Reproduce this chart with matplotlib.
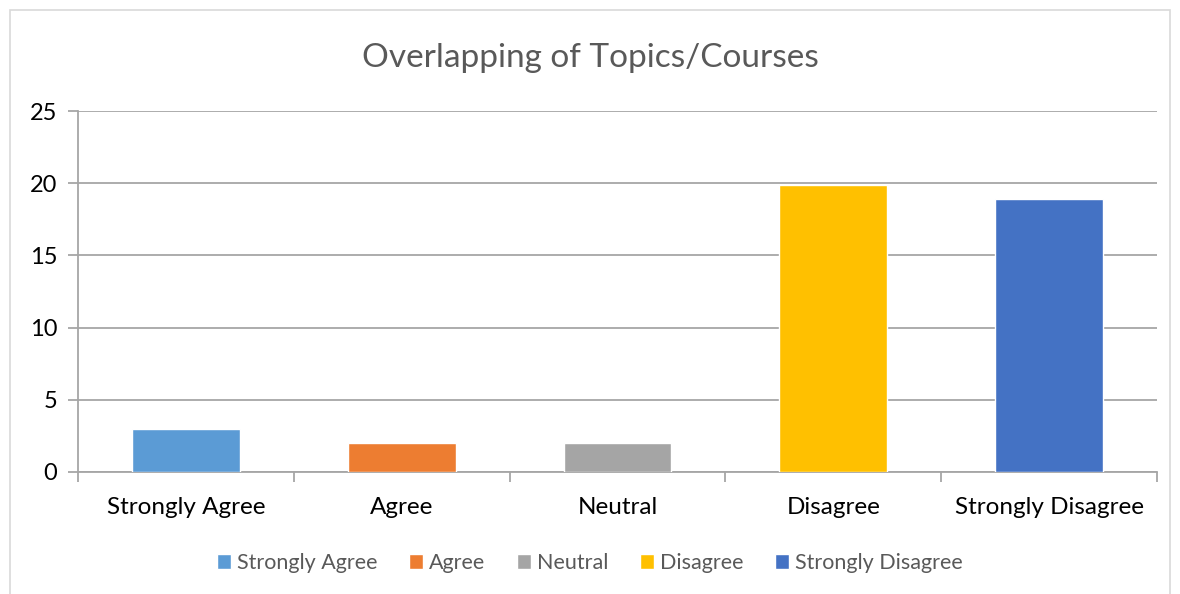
import matplotlib

matplotlib.use("Agg")
import matplotlib.pyplot as plt
from matplotlib.patches import Rectangle

categories = ["Strongly Agree", "Agree", "Neutral", "Disagree", "Strongly Disagree"]
values = [3, 2, 2, 19.9, 18.9]
colors = ["#5b9bd5", "#ed7d31", "#a5a5a5", "#ffc000", "#4472c4"]
yticks = [0, 5, 10, 15, 20, 25]

plt.rcParams["font.family"] = ["Lato", "DejaVu Sans"]

fig = plt.figure(figsize=(11.8, 5.94), dpi=100)
fig.patches.append(
    Rectangle((10 / 1180, -10 / 594), 1160 / 1180, 594 / 594, transform=fig.transFigure,
              fill=False, edgecolor="#d9d9d9", linewidth=1.2)
)
ax = fig.add_axes([78 / 1180, 1 - 472 / 594, (1157 - 78) / 1180, (472 - 111) / 594])

x = list(range(len(categories)))
bars = ax.bar(x, values, width=0.5, color=colors, edgecolor="white", linewidth=1, zorder=3)

ax.set_xlim(-0.5, len(categories) - 0.5)
ax.set_ylim(0, 25)
ax.set_yticks(yticks)
ax.yaxis.grid(True, color="#a6a6a6", linewidth=1.3, zorder=0)

# category boundaries as tick marks, labels centered
ax.set_xticks([i - 0.5 for i in range(len(categories) + 1)])
ax.set_xticklabels([])
ax.set_xticks(x, minor=True)
ax.set_xticklabels(categories, minor=True, fontsize=17.5)
ax.tick_params(axis="x", which="major", length=7, color="#a6a6a6", width=1.3)
ax.tick_params(axis="x", which="minor", length=0, pad=18, labelcolor="black")
ax.tick_params(axis="y", length=7, color="#a6a6a6", width=1.3, labelsize=17, pad=8)

for side in ["top", "right"]:
    ax.spines[side].set_visible(False)
for side in ["left", "bottom"]:
    ax.spines[side].set_color("#a6a6a6")
    ax.spines[side].set_linewidth(1.3)

fig.text(0.5, 1 - 58 / 594, "Overlapping of Topics/Courses", ha="center", va="center",
         fontsize=24, color="#595959")

fig.legend(bars, categories, loc="center", bbox_to_anchor=(0.5, 1 - 563 / 594), ncol=5,
           frameon=False, fontsize=15.5, handlelength=0.65, handleheight=0.65,
           handletextpad=0.3, columnspacing=1.45, labelcolor="#595959")

fig.savefig("out.png", dpi=100)
